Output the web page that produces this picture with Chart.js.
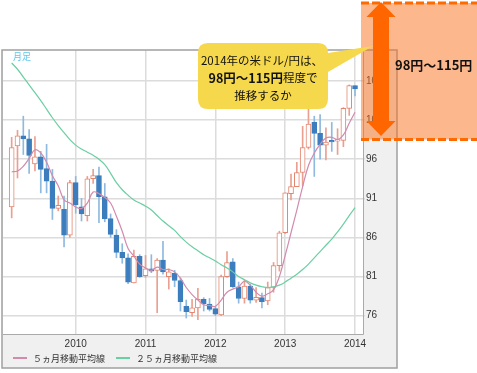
<!DOCTYPE html>
<html>
<head>
<meta charset="utf-8">
<script src="https://cdn.jsdelivr.net/npm/chart.js@4.4.1/dist/chart.umd.min.js"></script>
<style>
    html, body { margin: 0; padding: 0; background: #fff; }
    #wrap { width: 477px; height: 373px; }
</style>
</head>
<body>
<div id="wrap"><canvas id="myChart" width="477" height="373"></canvas></div>
<script>
(function () {
    'use strict';

    var months = [
        '2009-02', '2009-03', '2009-04', '2009-05', '2009-06', '2009-07', '2009-08', '2009-09', '2009-10', '2009-11', '2009-12',
        '2010-01', '2010-02', '2010-03', '2010-04', '2010-05', '2010-06', '2010-07', '2010-08', '2010-09', '2010-10', '2010-11', '2010-12',
        '2011-01', '2011-02', '2011-03', '2011-04', '2011-05', '2011-06', '2011-07', '2011-08', '2011-09', '2011-10', '2011-11', '2011-12',
        '2012-01', '2012-02', '2012-03', '2012-04', '2012-05', '2012-06', '2012-07', '2012-08', '2012-09', '2012-10', '2012-11', '2012-12',
        '2013-01', '2013-02', '2013-03', '2013-04', '2013-05', '2013-06', '2013-07', '2013-08', '2013-09', '2013-10', '2013-11', '2013-12',
        '2014-01'
    ];

    var opens = [
        89.9, 97.7, 99.0, 98.6, 95.4, 96.3, 94.8, 93.2, 89.7, 89.6,
        86.3, 93.0, 89.9, 88.8, 93.5, 93.9, 91.2, 88.4, 86.3, 84.1,
        83.4, 80.2, 83.6, 81.1, 82.0, 81.8, 83.1, 81.0, 81.4, 80.5,
        77.2, 76.4, 77.0, 78.1, 77.5, 76.9, 76.1, 81.0, 82.9, 79.7,
        78.2, 79.8, 78.0, 78.3, 77.9, 79.6, 82.4, 86.6, 91.6, 92.5,
        94.3, 97.5, 100.7, 99.3, 97.8, 98.4, 98.3, 98.4, 102.5, 105.4
    ];
    var highs = [
        98.8, 99.7, 101.5, 99.8, 98.9, 97.0, 97.9, 94.7, 91.3, 91.3,
        93.3, 93.8, 91.0, 93.8, 94.7, 95.0, 92.9, 89.0, 87.0, 85.2,
        83.9, 84.4, 83.8, 83.7, 83.8, 83.3, 85.5, 82.0, 81.8, 80.8,
        78.0, 78.1, 79.5, 78.3, 78.2, 77.2, 81.2, 84.2, 83.3, 80.3,
        80.6, 80.0, 79.6, 78.9, 80.3, 82.8, 86.8, 91.7, 94.1, 95.6,
        100.2, 103.7, 101.5, 101.7, 100.0, 100.7, 99.9, 102.6, 105.5, 105.4
    ];
    var lows = [
        88.5, 93.6, 96.6, 94.2, 94.5, 91.7, 91.7, 88.3, 89.4, 84.8,
        86.0, 89.1, 88.1, 88.1, 92.9, 87.9, 88.0, 86.0, 83.4, 82.7,
        80.1, 80.2, 80.9, 80.9, 81.5, 76.4, 81.3, 79.4, 79.7, 76.6,
        75.7, 75.9, 75.5, 76.6, 76.6, 76.0, 76.0, 80.9, 79.6, 77.6,
        77.6, 77.6, 77.7, 77.0, 77.4, 79.0, 81.7, 86.5, 90.8, 92.5,
        92.6, 97.3, 93.8, 96.0, 95.9, 97.0, 96.6, 97.6, 101.6, 104.1
    ];
    var closes = [
        97.5, 99.0, 98.6, 96.5, 96.3, 94.7, 93.2, 89.7, 90.1, 86.3,
        93.0, 90.2, 89.0, 93.5, 93.9, 91.2, 88.4, 86.4, 84.1, 83.4,
        80.3, 83.6, 81.0, 82.0, 81.7, 83.1, 81.6, 81.6, 80.5, 77.8,
        76.5, 77.0, 78.1, 77.5, 76.8, 76.2, 81.0, 82.8, 79.7, 78.2,
        79.8, 78.0, 78.35, 77.8, 79.6, 82.4, 86.6, 91.7, 92.5, 94.3,
        97.5, 100.5, 99.3, 97.8, 98.2, 98.2, 98.5, 102.5, 105.4, 105.0
    ];

    // moving averages
    var ma5 = [
        94.4, 94.5, 95.1, 96.1, 97.2, 96.8, 95.6, 93.9, 92.6, 90.8,
        90.4, 89.9, 89.7, 90.4, 91.8, 91.6, 91.1, 90.4, 88.7, 86.8,
        84.6, 83.6, 82.6, 82.1, 81.8, 82.2, 81.9, 81.9, 81.6, 80.8,
        79.6, 78.7, 78.0, 77.4, 77.3, 77.2, 78.0, 79.0, 79.4, 79.7,
        80.4, 79.9, 79.0, 78.5, 78.8, 79.3, 81.0, 83.7, 86.6, 89.5,
        92.5, 95.2, 96.8, 97.9, 98.7, 98.8, 98.5, 99.1, 100.6, 102.0
    ];
    var ma25 = [
        108.3, 107.5, 106.5, 105.5, 104.5, 103.5, 102.4, 101.3, 100.3, 99.4,
        98.5, 97.8, 97.3, 96.9, 96.5, 96.0, 95.3, 94.2, 93.0, 92.1,
        91.4, 90.8, 90.4, 90.0, 89.5, 88.8, 88.1, 87.5, 86.9, 86.1,
        85.4, 84.8, 84.3, 83.8, 83.4, 83.0, 82.5, 82.1, 81.6, 81.0,
        80.6, 80.2, 79.9, 79.7, 79.6, 79.7, 79.9, 80.3, 80.8, 81.3,
        81.9, 82.6, 83.4, 84.2, 85.0, 85.8, 86.7, 87.7, 88.8, 89.8
    ];

    var yearTicks = ['2010', '2011', '2012', '2013', '2014'];
    var priceTicks = [76, 81, 86, 91, 96, 101, 106];

    var UP_LINE = '#e3866f', UP_WICK = '#eaa090';
    var DOWN_FILL = '#3b7dbd', DOWN_WICK = '#8fb9de';
    var CJK = '"Noto Sans CJK JP", "Noto Sans", sans-serif';
    var LATIN = '"Liberation Sans", Arial, sans-serif';

    function isUp(i) {
        return closes[i] >= opens[i];
    }

    var yearIndex = yearTicks.map(function (y) { return months.indexOf(y + '-01'); });

    var wicks = months.map(function (m, i) { return { x: i, y: [lows[i], highs[i]] }; });
    var bodies = months.map(function (m, i) { return { x: i, y: [opens[i], closes[i]] }; });

    var frame = {
        id: 'frame',
        beforeDraw: function (chart) {
            var ctx = chart.ctx, a = chart.chartArea;
            var yS = chart.scales.y, xS = chart.scales.x;
            ctx.save();
            ctx.fillStyle = '#fff';
            ctx.fillRect(0, 0, chart.width, chart.height);
            ctx.fillStyle = '#f0f0f0';
            ctx.fillRect(a.left - 1, a.top, yS.right - a.left + 1, xS.bottom - a.top);
            ctx.fillStyle = '#fff';
            ctx.fillRect(a.left, a.top, a.right - a.left, a.bottom - a.top);
            ctx.restore();
        },
        afterDraw: function (chart) {
            var ctx = chart.ctx, a = chart.chartArea;
            var yS = chart.scales.y, xS = chart.scales.x;
            ctx.save();
            ctx.strokeStyle = '#a0a0a0';
            ctx.lineWidth = 1.5;
            ctx.strokeRect(a.left - 1, a.top, yS.right - a.left + 1, xS.bottom - a.top);

            // 月足 label
            ctx.fillStyle = '#5ac6ee';
            ctx.font = '9px ' + CJK;
            ctx.textBaseline = 'middle';
            ctx.fillText('月足', a.left + 10, a.top + 7);

            // legend
            var x = a.left + 10, y = xS.bottom - 10;
            ctx.font = '9px ' + CJK;
            ctx.fillStyle = '#333';
            chart.data.datasets.forEach(function (ds) {
                if (ds.type !== 'line') return;
                ctx.strokeStyle = ds.borderColor;
                ctx.lineWidth = 2;
                ctx.beginPath();
                ctx.moveTo(x, y);
                ctx.lineTo(x + 14, y);
                ctx.stroke();
                ctx.fillText(ds.label, x + 20, y + 0.5);
                x += 20 + ctx.measureText(ds.label).width + 11;
            });
            ctx.restore();
        }
    };

    var callout = {
        id: 'callout',
        afterDraw: function (chart) {
            var ctx = chart.ctx;
            ctx.save();

            // orange range band
            var bandLeft = 361, bandTop = 3, bandBottom = 139.5;
            ctx.fillStyle = 'rgba(250, 112, 25, 0.5)';
            ctx.fillRect(bandLeft, bandTop, chart.width - bandLeft, bandBottom - bandTop);
            ctx.strokeStyle = '#ff6a00';
            ctx.lineWidth = 3;
            ctx.setLineDash([8, 3]);
            ctx.beginPath();
            ctx.moveTo(bandLeft, bandTop);
            ctx.lineTo(chart.width, bandTop);
            ctx.moveTo(bandLeft, bandBottom);
            ctx.lineTo(chart.width, bandBottom);
            ctx.stroke();
            ctx.setLineDash([]);

            // speech bubble
            var bx = 198, by = 43, bw = 130, bh = 66, r = 10;
            ctx.fillStyle = '#f6d84c';
            ctx.beginPath();
            ctx.moveTo(bx + r, by);
            ctx.lineTo(bx + bw - r, by);
            ctx.quadraticCurveTo(bx + bw, by, bx + bw, by + r);
            ctx.lineTo(bx + bw, by + 10);
            ctx.lineTo(373, 46);
            ctx.lineTo(bx + bw, by + 29);
            ctx.lineTo(bx + bw, by + bh - r);
            ctx.quadraticCurveTo(bx + bw, by + bh, bx + bw - r, by + bh);
            ctx.lineTo(bx + r, by + bh);
            ctx.quadraticCurveTo(bx, by + bh, bx, by + bh - r);
            ctx.lineTo(bx, by + r);
            ctx.quadraticCurveTo(bx, by, bx + r, by);
            ctx.closePath();
            ctx.fill();

            var cx = bx + bw / 2;
            ctx.fillStyle = '#111';
            ctx.textBaseline = 'middle';
            ctx.textAlign = 'center';
            ctx.font = '11.5px ' + CJK;
            ctx.fillText('2014年の米ドル/円は、', cx - 1, 61);
            ctx.fillText('推移するか', cx, 96);
            ctx.textAlign = 'left';
            var boldPart = '98円～115円', normPart = '程度で';
            ctx.font = 'bold 12.5px ' + CJK;
            var w1 = ctx.measureText(boldPart).width;
            ctx.font = '11.5px ' + CJK;
            var w2 = ctx.measureText(normPart).width;
            var sx = cx - (w1 + w2) / 2;
            ctx.font = 'bold 12.5px ' + CJK;
            ctx.fillText(boldPart, sx, 78);
            ctx.font = '11.5px ' + CJK;
            ctx.fillText(normPart, sx + w1, 78);

            // double arrow
            var ax = 381, top = 2, bottom = 136, shaft = 8, head = 14.5, headLen = 15;
            ctx.fillStyle = '#ff6600';
            ctx.beginPath();
            ctx.moveTo(ax, top);
            ctx.lineTo(ax + head, top + headLen);
            ctx.lineTo(ax + shaft, top + headLen);
            ctx.lineTo(ax + shaft, bottom - headLen);
            ctx.lineTo(ax + head, bottom - headLen);
            ctx.lineTo(ax, bottom);
            ctx.lineTo(ax - head, bottom - headLen);
            ctx.lineTo(ax - shaft, bottom - headLen);
            ctx.lineTo(ax - shaft, top + headLen);
            ctx.lineTo(ax - head, top + headLen);
            ctx.closePath();
            ctx.fill();

            ctx.fillStyle = '#111';
            ctx.font = 'bold 13px ' + CJK;
            ctx.fillText('98円～115円', 395, 65);
            ctx.restore();
        }
    };

    new Chart(document.getElementById('myChart'), {
        type: 'bar',
        data: {
            datasets: [
                {
                    type: 'line',
                    label: '５ヵ月移動平均線',
                    data: ma5.map(function (v, i) { return { x: i, y: v }; }),
                    borderColor: '#d28aad',
                    borderWidth: 1.2,
                    pointRadius: 0,
                    tension: 0.4,
                    order: 0
                },
                {
                    type: 'line',
                    label: '２５ヵ月移動平均線',
                    data: ma25.map(function (v, i) { return { x: i, y: v }; }),
                    borderColor: '#6acfa2',
                    borderWidth: 1.2,
                    pointRadius: 0,
                    tension: 0.4,
                    order: 0
                },
                {
                    label: 'body',
                    data: bodies,
                    grouped: false,
                    barThickness: 5,
                    borderWidth: 1,
                    borderSkipped: false,
                    backgroundColor: months.map(function (m, i) { return isUp(i) ? '#ffffff' : DOWN_FILL; }),
                    borderColor: months.map(function (m, i) { return isUp(i) ? UP_LINE : DOWN_FILL; }),
                    order: 1
                },
                {
                    label: 'wick',
                    data: wicks,
                    grouped: false,
                    barThickness: 1,
                    borderWidth: 0,
                    backgroundColor: months.map(function (m, i) { return isUp(i) ? UP_WICK : DOWN_WICK; }),
                    order: 2
                }
            ]
        },
        options: {
            responsive: false,
            animation: false,
            devicePixelRatio: 1,
            layout: { padding: { left: 3, top: 50, right: 80, bottom: 5 } },
            plugins: {
                legend: { display: false },
                tooltip: { enabled: false }
            },
            scales: {
                x: {
                    type: 'linear',
                    min: -1.49,
                    max: 60.37,
                    offset: false,
                    grid: { offset: false, color: '#dcdcdc', lineWidth: 1.5, drawTicks: false },
                    border: { color: '#aaa', width: 1 },
                    afterBuildTicks: function (scale) {
                        scale.ticks = yearIndex.map(function (v) { return { value: v }; });
                    },
                    afterFit: function (scale) { scale.height = 34; },
                    ticks: {
                        padding: 4,
                        maxRotation: 0,
                        color: '#333',
                        font: { family: LATIN, size: 10 },
                        callback: function (v) {
                            return yearTicks[yearIndex.indexOf(v)];
                        }
                    }
                },
                y: {
                    position: 'right',
                    min: 73.66,
                    max: 109.96,
                    grid: { color: '#dcdcdc', lineWidth: 1.5, tickLength: 2 },
                    border: { color: '#aaa', width: 1 },
                    afterBuildTicks: function (scale) {
                        scale.ticks = priceTicks.map(function (v) { return { value: v }; });
                    },
                    afterFit: function (scale) { scale.width = 34; },
                    ticks: {
                        padding: 1,
                        color: '#333',
                        font: { family: LATIN, size: 10 }
                    }
                }
            }
        },
        plugins: [frame, callout]
    });
})();
</script>
</body>
</html>
